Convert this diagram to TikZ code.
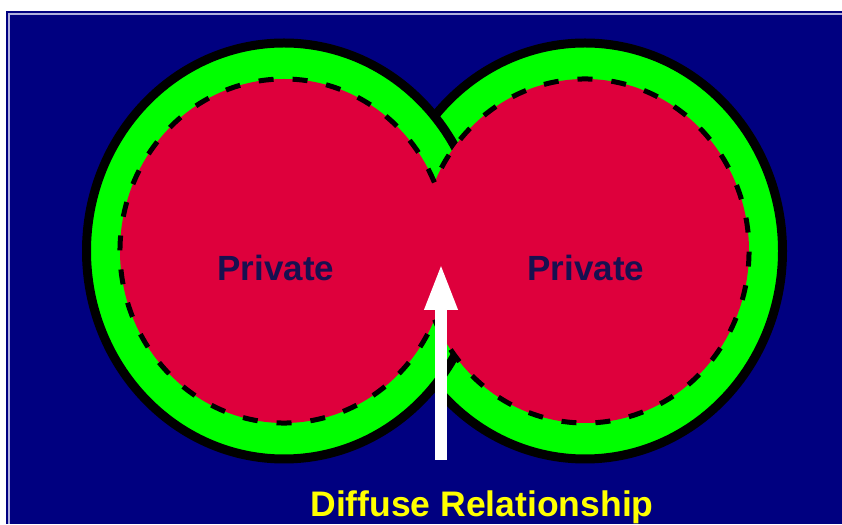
\documentclass[tikz,border=0pt]{standalone}
\usepackage{fontspec}
\setmainfont{Liberation Sans}
\usetikzlibrary{arrows.meta}
\definecolor{bgnavy}{RGB}{0,0,128}
\definecolor{frameline}{RGB}{176,176,222}
\definecolor{ringgreen}{RGB}{0,255,0}
\definecolor{corered}{RGB}{222,0,60}
\definecolor{privink}{RGB}{24,16,80}
\definecolor{diffink}{RGB}{255,255,0}

\begin{document}
\begin{tikzpicture}[
  x=1pt, y=1pt,
  ring/.style={draw=black, fill=ringgreen, line width=9pt},
  core/.style={fill=corered},
  seam/.style={draw=black, line width=5pt, dash pattern=on 15pt off 19pt},
  privlabel/.style={font=\fontsize{35}{40}\selectfont\bfseries, text=privink,
                    anchor=base, inner sep=0pt},
  difflabel/.style={font=\fontsize{35.5}{40}\selectfont\bfseries, text=diffink,
                    anchor=base, inner sep=0pt},
  pointer/.style={-{Triangle[length=47pt, width=30pt]}, draw=white, line width=12pt},
]
\useasboundingbox (0,0) rectangle (842,524);
\fill[white] (0,0) rectangle (842,524);

% panel with its thin inner frame
\fill[bgnavy] (6,0) rectangle (842,513);
\draw[frameline, line width=2pt] (8.8,0) -- (8.8,510.3) -- (842,510.3);

% outer rings: right one first, the left one lies over it
\foreach \cx in {585, 284}
  \path[ring] (\cx,273) ellipse (197.5 and 208);

% red cores merge in the middle
\foreach \cx in {284, 585}
  \path[core] (\cx,273) ellipse (164 and 172);

% dashed edges only where each core is not covered by the other
\draw[seam] (284,273) ++(23.5:164 and 172)
  arc[start angle=23.5, end angle=336.5, x radius=164, y radius=172];
\draw[seam] (585,273) ++(203.5:164 and 172)
  arc[start angle=203.5, end angle=516.5, x radius=164, y radius=172];

\node[privlabel] (privL) at (276,243) {Private};
\node[privlabel] (privR) at (586,243) {Private};

\coordinate (neckfoot) at (441,64);
\coordinate (neckmid) at (441,261);
\draw[pointer] (neckfoot) -- (neckmid);

\node[difflabel] (diffuse) at (482,8) {Diffuse Relationship};
\end{tikzpicture}
\end{document}
